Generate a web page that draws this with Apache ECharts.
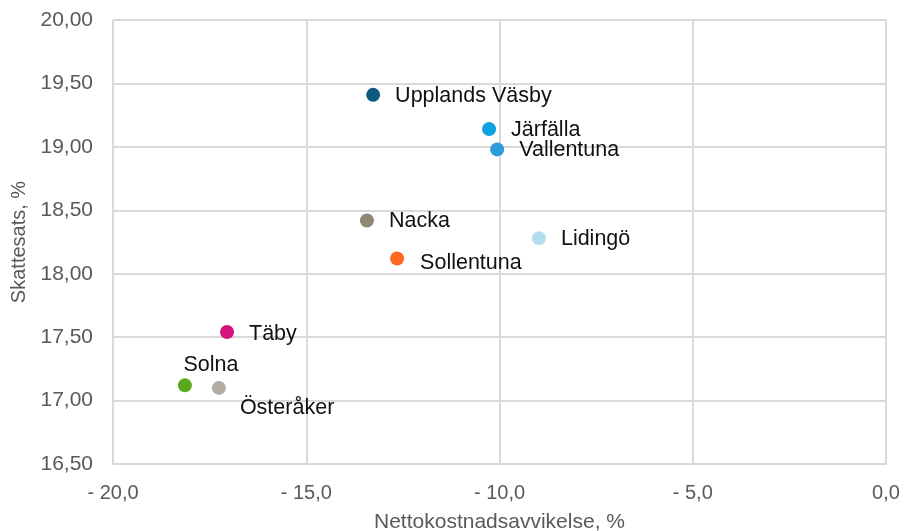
<!DOCTYPE html>
<html>
<head>
<meta charset="utf-8">
<script src="https://cdn.jsdelivr.net/npm/echarts@6/dist/echarts.min.js"></script>
<style>html,body{margin:0;padding:0;background:#fff;}#c{width:908px;height:531px;}</style>
</head>
<body>
<div id="c"></div>
<script>
const names = ['Upplands Väsby','Järfälla','Vallentuna','Nacka','Lidingö','Sollentuna','Täby','Solna','Österåker'];
const xValues = [-13.27, -10.27, -10.06, -13.43, -8.98, -12.65, -17.05, -18.14, -17.26];
const yValues = [19.41, 19.14, 18.98, 18.42, 18.28, 18.12, 17.54, 17.12, 17.10];
const pointColors = ['#0b5a7d','#0ea2e2','#2e9ad8','#928675','#b6dcf1','#ff6820','#d6127c','#5aa91f','#b2aca3'];
const xTicks = {min: -20, max: 0, interval: 5};
const yTicks = {min: 16.5, max: 20, interval: 0.5};

const labelOverrides = {
  'Solna': {position: 'top', distance: 2, offset: [26, 0]},
  'Österåker': {position: 'right', distance: 14, offset: [0, 20]},
  'Sollentuna': {position: 'right', distance: 16, offset: [0, 5]},
  'Täby': {position: 'right', distance: 15, offset: [0, 2]}
};

const data = names.map((n, i) => {
  const lo = labelOverrides[n] || {position: 'right', distance: 15, offset: [0, 1]};
  return {
    name: n,
    value: [xValues[i], yValues[i]],
    itemStyle: {color: pointColors[i], opacity: 1},
    label: {show: true, formatter: n, position: lo.position, distance: lo.distance, offset: lo.offset}
  };
});

const chart = echarts.init(document.getElementById('c'));
chart.setOption({
  animation: false,
  grid: {left: 113, right: 22, top: 20, bottom: 67, containLabel: false, outerBoundsMode: 'none'},
  xAxis: {
    type: 'value', min: xTicks.min, max: xTicks.max, interval: xTicks.interval,
    name: 'Nettokostnadsavvikelse, %', nameLocation: 'middle', nameGap: 48,
    nameTextStyle: {color: '#595959', fontFamily: 'Liberation Sans, Arial', fontSize: 21},
    axisLine: {show: true, lineStyle: {color: '#d9d9d9', width: 2}},
    axisTick: {show: false},
    splitLine: {show: true, lineStyle: {color: '#d9d9d9', width: 2}},
    axisLabel: {color: '#595959', fontFamily: 'Liberation Sans, Arial', fontSize: 20, margin: 19,
      formatter: v => v < 0 ? '- ' + Math.abs(v).toFixed(1).replace('.', ',') : '0,0'}
  },
  yAxis: {
    type: 'value', min: yTicks.min, max: yTicks.max, interval: yTicks.interval,
    name: 'Skattesats, %', nameLocation: 'middle', nameGap: 84,
    nameTextStyle: {color: '#595959', fontFamily: 'Liberation Sans, Arial', fontSize: 20},
    axisLine: {show: true, lineStyle: {color: '#d9d9d9', width: 2}},
    axisTick: {show: false},
    splitLine: {show: true, lineStyle: {color: '#d9d9d9', width: 2}},
    axisLabel: {color: '#595959', fontFamily: 'Liberation Sans, Arial', fontSize: 21, margin: 20,
      formatter: v => v.toFixed(2).replace('.', ',')}
  },
  series: [{
    type: 'scatter',
    symbol: 'circle',
    symbolSize: 14,
    data: data,
    label: {color: '#111111', fontFamily: 'Liberation Sans, Arial', fontSize: 21.5}
  }]
});
</script>
</body>
</html>
